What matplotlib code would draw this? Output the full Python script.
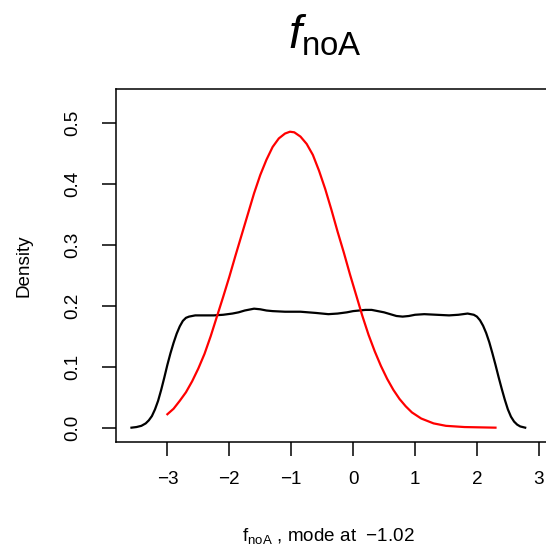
import numpy as np
import matplotlib
matplotlib.use("Agg")
import matplotlib.pyplot as plt

# --- data ---
# black: density of the sample
dens_x = [-3.58, -3.5, -3.42, -3.35, -3.3, -3.25, -3.2, -3.15, -3.1, -3.05,
          -3.0, -2.95, -2.9, -2.85, -2.8, -2.75, -2.7, -2.65, -2.55, -2.4,
          -2.25, -2.1, -1.95, -1.85, -1.75, -1.65, -1.6, -1.5, -1.4, -1.3,
          -1.1, -0.85, -0.6, -0.4, -0.25, -0.1, 0.0, 0.1, 0.2, 0.3,
          0.4, 0.5, 0.6, 0.7, 0.8, 0.9, 1.0, 1.15, 1.35, 1.55,
          1.7, 1.85, 1.95, 2.0, 2.05, 2.1, 2.15, 2.2, 2.25, 2.3,
          2.35, 2.4, 2.45, 2.5, 2.55, 2.6, 2.65, 2.7, 2.78]
dens_y = [0.001, 0.002, 0.004, 0.008, 0.013, 0.020, 0.031, 0.045, 0.063, 0.083,
          0.104, 0.123, 0.140, 0.155, 0.167, 0.176, 0.181, 0.183, 0.185, 0.185,
          0.185, 0.186, 0.188, 0.190, 0.193, 0.195, 0.196, 0.195, 0.193, 0.192,
          0.191, 0.191, 0.189, 0.187, 0.188, 0.190, 0.192, 0.193, 0.194, 0.194,
          0.192, 0.190, 0.187, 0.184, 0.183, 0.184, 0.186, 0.187, 0.186, 0.185,
          0.186, 0.188, 0.186, 0.183, 0.177, 0.168, 0.156, 0.141, 0.123, 0.104,
          0.084, 0.065, 0.047, 0.031, 0.019, 0.011, 0.006, 0.003, 0.001]

# red: fitted curve
fit_x = [-3.0, -2.9, -2.8, -2.7, -2.6, -2.5, -2.4, -2.3, -2.2, -2.1,
         -2.0, -1.9, -1.8, -1.7, -1.6, -1.5, -1.4, -1.3, -1.2, -1.1,
         -1.02, -0.95, -0.85, -0.75, -0.65, -0.55, -0.45, -0.35, -0.25, -0.15,
         -0.05, 0.05, 0.15, 0.25, 0.35, 0.45, 0.55, 0.65, 0.75, 0.85,
         0.95, 1.1, 1.3, 1.5, 1.8, 2.3]
fit_y = [0.023, 0.032, 0.045, 0.059, 0.077, 0.098, 0.122, 0.151, 0.183, 0.215,
         0.248, 0.283, 0.317, 0.351, 0.385, 0.415, 0.440, 0.461, 0.475, 0.483,
         0.486, 0.485, 0.478, 0.466, 0.448, 0.422, 0.392, 0.358, 0.322, 0.288,
         0.252, 0.218, 0.184, 0.153, 0.126, 0.102, 0.081, 0.063, 0.048, 0.036,
         0.026, 0.016, 0.008, 0.004, 0.002, 0.001]

mode_val = -1.02
xticks = [-3, -2, -1, 0, 1, 2, 3]
yticks = [0.0, 0.1, 0.2, 0.3, 0.4, 0.5]

plt.rcParams["font.family"] = ["Liberation Sans", "DejaVu Sans"]
plt.rcParams["mathtext.fontset"] = "custom"
plt.rcParams["mathtext.rm"] = "Liberation Sans"
plt.rcParams["mathtext.it"] = "Liberation Sans:italic"

fig = plt.figure(figsize=(5.46, 5.5), dpi=100)
ax = fig.add_axes([116/546, 108.3/550, 435.2/546, 352.7/550])

ax.plot(dens_x, dens_y, color="black", lw=1.6, solid_joinstyle="round")
ax.plot(fit_x, fit_y, color="red", lw=1.6, solid_joinstyle="round")

ax.set_xlim(-3.83, 3.2)
ax.set_ylim(-0.022, 0.556)

ax.set_xticks(xticks)
ax.set_xticklabels([f"{t:d}".replace("-", "\u2212") for t in xticks])
ax.set_yticks(yticks)
ax.set_yticklabels([f"{t:.1f}" for t in yticks], rotation=90, va="center")

ax.tick_params(axis="both", direction="out", length=9.8, width=1.1,
               labelsize=13.6, color="black")
ax.tick_params(axis="x", pad=11.5)
ax.tick_params(axis="y", pad=15)

for s in ["left", "bottom", "top"]:
    ax.spines[s].set_linewidth(1.1)
ax.spines["right"].set_visible(False)

# title
fig.text(325/546, (550-48)/550, r"$\mathit{f}_{\mathrm{noA}}$",
         ha="center", va="baseline", fontsize=34)

# x label
fig.text(328/546, (550-541)/550,
         r"$\mathrm{f}_{\mathrm{noA}}$ , mode at  " + f"{mode_val:.2f}".replace("-", "\u2212"),
         ha="center", va="baseline", fontsize=13.6)

# y label
fig.text(24/546, (550-266)/550, "Density", rotation=90,
         ha="center", va="center", fontsize=13.6)

fig.savefig("out.png", dpi=100)
